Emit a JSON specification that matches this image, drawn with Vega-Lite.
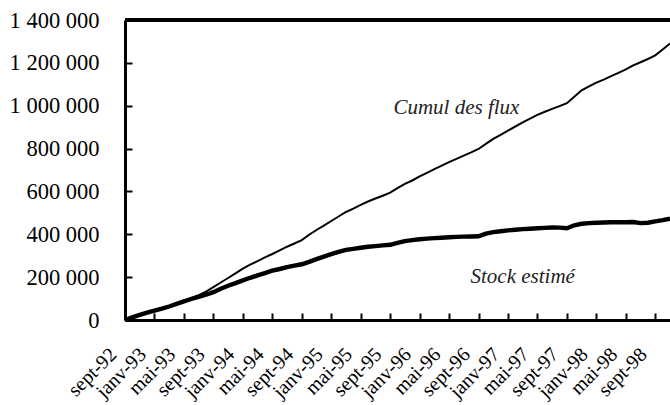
{
  "$schema": "https://vega.github.io/schema/vega-lite/v6.json",
  "width": 545,
  "height": 300,
  "autosize": {"type": "none"},
  "padding": {"left": 125, "top": 20, "right": 0, "bottom": 85},
  "background": "white",
  "config": {"view": {"stroke": null}, "font": "Liberation Serif"},
  "datasets": {
    "series": [
      {"m": "sept-92", "cumul": 0, "stock": 0},
      {"m": "oct-92", "cumul": 12000, "stock": 12000},
      {"m": "nov-92", "cumul": 24000, "stock": 24000},
      {"m": "déc-92", "cumul": 35000, "stock": 34000},
      {"m": "janv-93", "cumul": 45000, "stock": 44000},
      {"m": "févr-93", "cumul": 54000, "stock": 53000},
      {"m": "mars-93", "cumul": 65000, "stock": 63000},
      {"m": "avr-93", "cumul": 77000, "stock": 75000},
      {"m": "mai-93", "cumul": 90000, "stock": 87000},
      {"m": "juin-93", "cumul": 103000, "stock": 98000},
      {"m": "juil-93", "cumul": 116000, "stock": 108000},
      {"m": "août-93", "cumul": 132000, "stock": 118000},
      {"m": "sept-93", "cumul": 153000, "stock": 130000},
      {"m": "oct-93", "cumul": 175000, "stock": 146000},
      {"m": "nov-93", "cumul": 196000, "stock": 160000},
      {"m": "déc-93", "cumul": 218000, "stock": 172000},
      {"m": "janv-94", "cumul": 240000, "stock": 185000},
      {"m": "févr-94", "cumul": 258000, "stock": 197000},
      {"m": "mars-94", "cumul": 275000, "stock": 208000},
      {"m": "avr-94", "cumul": 292000, "stock": 219000},
      {"m": "mai-94", "cumul": 308000, "stock": 230000},
      {"m": "juin-94", "cumul": 325000, "stock": 238000},
      {"m": "juil-94", "cumul": 342000, "stock": 247000},
      {"m": "août-94", "cumul": 357000, "stock": 254000},
      {"m": "sept-94", "cumul": 373000, "stock": 260000},
      {"m": "oct-94", "cumul": 398000, "stock": 271000},
      {"m": "nov-94", "cumul": 420000, "stock": 284000},
      {"m": "déc-94", "cumul": 440000, "stock": 296000},
      {"m": "janv-95", "cumul": 462000, "stock": 307000},
      {"m": "févr-95", "cumul": 483000, "stock": 318000},
      {"m": "mars-95", "cumul": 504000, "stock": 327000},
      {"m": "avr-95", "cumul": 520000, "stock": 332000},
      {"m": "mai-95", "cumul": 537000, "stock": 337000},
      {"m": "juin-95", "cumul": 553000, "stock": 342000},
      {"m": "juil-95", "cumul": 567000, "stock": 345000},
      {"m": "août-95", "cumul": 580000, "stock": 348000},
      {"m": "sept-95", "cumul": 594000, "stock": 351000},
      {"m": "oct-95", "cumul": 615000, "stock": 360000},
      {"m": "nov-95", "cumul": 635000, "stock": 368000},
      {"m": "déc-95", "cumul": 651000, "stock": 373000},
      {"m": "janv-96", "cumul": 670000, "stock": 377000},
      {"m": "févr-96", "cumul": 687000, "stock": 380000},
      {"m": "mars-96", "cumul": 704000, "stock": 382000},
      {"m": "avr-96", "cumul": 720000, "stock": 384000},
      {"m": "mai-96", "cumul": 737000, "stock": 386000},
      {"m": "juin-96", "cumul": 752000, "stock": 388000},
      {"m": "juil-96", "cumul": 767000, "stock": 389000},
      {"m": "août-96", "cumul": 782000, "stock": 390000},
      {"m": "sept-96", "cumul": 798000, "stock": 391000},
      {"m": "oct-96", "cumul": 822000, "stock": 403000},
      {"m": "nov-96", "cumul": 845000, "stock": 410000},
      {"m": "déc-96", "cumul": 864000, "stock": 414000},
      {"m": "janv-97", "cumul": 884000, "stock": 418000},
      {"m": "févr-97", "cumul": 903000, "stock": 421000},
      {"m": "mars-97", "cumul": 922000, "stock": 424000},
      {"m": "avr-97", "cumul": 940000, "stock": 426000},
      {"m": "mai-97", "cumul": 957000, "stock": 428000},
      {"m": "juin-97", "cumul": 972000, "stock": 430000},
      {"m": "juil-97", "cumul": 985000, "stock": 432000},
      {"m": "août-97", "cumul": 998000, "stock": 431000},
      {"m": "sept-97", "cumul": 1012000, "stock": 428000},
      {"m": "oct-97", "cumul": 1042000, "stock": 442000},
      {"m": "nov-97", "cumul": 1072000, "stock": 449000},
      {"m": "déc-97", "cumul": 1090000, "stock": 452000},
      {"m": "janv-98", "cumul": 1108000, "stock": 454000},
      {"m": "févr-98", "cumul": 1122000, "stock": 455000},
      {"m": "mars-98", "cumul": 1138000, "stock": 456000},
      {"m": "avr-98", "cumul": 1153000, "stock": 456000},
      {"m": "mai-98", "cumul": 1170000, "stock": 456000},
      {"m": "juin-98", "cumul": 1188000, "stock": 457000},
      {"m": "juil-98", "cumul": 1203000, "stock": 452000},
      {"m": "août-98", "cumul": 1218000, "stock": 454000},
      {"m": "sept-98", "cumul": 1235000, "stock": 460000},
      {"m": "oct-98", "cumul": 1262000, "stock": 466000},
      {"m": "nov-98", "cumul": 1290000, "stock": 473000}
    ],
    "notes": [
      {"m": "juin-96", "value": 989000, "label": "Cumul des flux"},
      {"m": "mars-97", "value": 200000, "label": "Stock estimé"}
    ]
  },
  "layer": [
    {
      "data": {"name": "series"},
      "mark": {"type": "line", "color": "black", "strokeWidth": 2},
      "encoding": {
        "x": {
          "field": "m", "type": "ordinal", "title": null,
          "scale": {"type": "point", "padding": 0, "domain": ["sept-92","oct-92","nov-92","déc-92","janv-93","févr-93","mars-93","avr-93","mai-93","juin-93","juil-93","août-93","sept-93","oct-93","nov-93","déc-93","janv-94","févr-94","mars-94","avr-94","mai-94","juin-94","juil-94","août-94","sept-94","oct-94","nov-94","déc-94","janv-95","févr-95","mars-95","avr-95","mai-95","juin-95","juil-95","août-95","sept-95","oct-95","nov-95","déc-95","janv-96","févr-96","mars-96","avr-96","mai-96","juin-96","juil-96","août-96","sept-96","oct-96","nov-96","déc-96","janv-97","févr-97","mars-97","avr-97","mai-97","juin-97","juil-97","août-97","sept-97","oct-97","nov-97","déc-97","janv-98","févr-98","mars-98","avr-98","mai-98","juin-98","juil-98","août-98","sept-98","oct-98","nov-98"]},
          "axis": {
            "orient": "bottom",
            "values": ["sept-92","janv-93","mai-93","sept-93","janv-94","mai-94","sept-94","janv-95","mai-95","sept-95","janv-96","mai-96","sept-96","janv-97","mai-97","sept-97","janv-98","mai-98","sept-98"],
            "labelAngle": -45, "labelAlign": "right", "labelBaseline": "middle",
            "labelFont": "Liberation Serif", "labelFontSize": 20, "labelColor": "black",
            "labelPadding": 38, "labelOffset": -12, "labelOverlap": false, "labelBound": false,
            "ticks": true, "tickSize": -7, "tickWidth": 2, "tickColor": "black",
            "domainColor": "black", "domainWidth": 3, "grid": false
          }
        },
        "y": {
          "field": "cumul", "type": "quantitative", "title": null,
          "scale": {"domain": [0, 1400000], "nice": false},
          "axis": {
            "orient": "left",
            "values": [0, 200000, 400000, 600000, 800000, 1000000, 1200000, 1400000],
            "labelExpr": "replace(format(datum.value, ','), regexp(',', 'g'), ' ')",
            "labelFont": "Liberation Serif", "labelFontSize": 22.5, "labelColor": "black",
            "labelPadding": 33, "labelFlush": false, "labelOverlap": false,
            "ticks": true, "tickSize": -7, "tickWidth": 2, "tickColor": "black",
            "domainColor": "black", "domainWidth": 3, "grid": false
          }
        }
      }
    },
    {
      "data": {"name": "series"},
      "mark": {"type": "line", "color": "black", "strokeWidth": 4.4},
      "encoding": {
        "x": {"field": "m", "type": "ordinal", "title": null},
        "y": {"field": "stock", "type": "quantitative", "title": null}
      }
    },
    {
      "data": {"name": "series"},
      "mark": {"type": "rule", "color": "black", "strokeWidth": 2.5},
      "encoding": {"y": {"datum": 1400000, "type": "quantitative"}}
    },
    {
      "data": {"name": "notes"},
      "mark": {"type": "text", "font": "Liberation Serif", "fontStyle": "italic", "fontSize": 21, "color": "#222", "align": "center", "baseline": "middle"},
      "encoding": {
        "x": {"field": "m", "type": "ordinal", "title": null},
        "y": {"field": "value", "type": "quantitative", "title": null},
        "text": {"field": "label"}
      }
    }
  ]
}
